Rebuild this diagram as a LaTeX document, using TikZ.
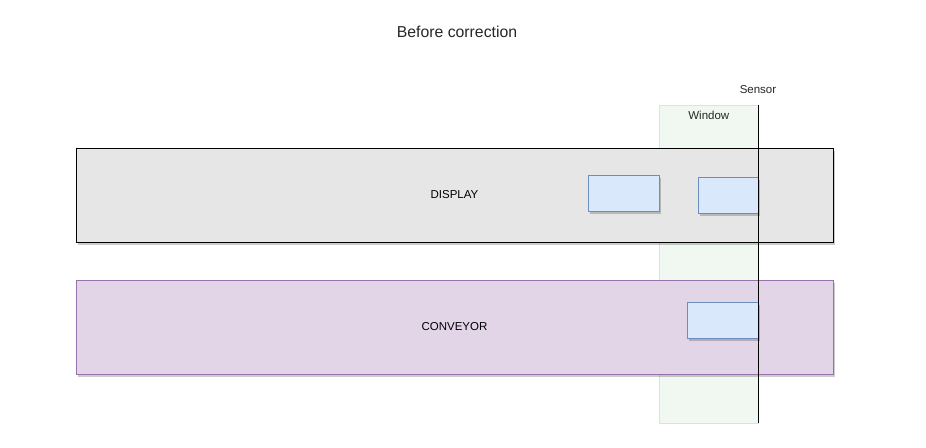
\documentclass[tikz,border=0pt]{standalone}
\usepackage{fontspec}
\setmainfont{Liberation Sans}
\usetikzlibrary{positioning, shadows}
\definecolor{winfill}{HTML}{F1F8F1}
\definecolor{windraw}{HTML}{D5E8D4}
\definecolor{dispfill}{HTML}{E6E6E6}
\definecolor{convfill}{HTML}{E1D5E7}
\definecolor{convdraw}{HTML}{9673A6}
\definecolor{itemfill}{HTML}{DAE8FC}
\definecolor{itemdraw}{HTML}{6C8EBF}

\begin{document}
\begin{tikzpicture}[
  x=1pt, y=-1pt,
  font=\fontsize{11.5}{13}\selectfont,
  softshadow/.style={
    drop shadow={shadow xshift=1.5pt, shadow yshift=-2.5pt, fill=black, opacity=0.2}
  },
  lane/.style={
    rectangle,
    minimum width=757pt,
    minimum height=94pt,
    inner sep=0pt,
    line width=0.6pt,
    softshadow
  },
  item/.style={
    rectangle,
    draw=itemdraw,
    fill=itemfill,
    line width=0.6pt,
    inner sep=0pt,
    minimum height=36pt,
    softshadow
  },
  label/.style={
    inner sep=0pt,
    text=black!85
  }
]
\useasboundingbox (0,0) rectangle (926,447);

% Title
\node[label, font=\fontsize{15.8}{18}\selectfont] (title) at (457,32) {Before correction};

% Inspection window (behind the lanes)
\node[rectangle, draw=windraw, fill=winfill, line width=0.6pt,
  minimum width=99pt, minimum height=318pt, inner sep=0pt, anchor=north west]
  (window) at (659,105) {};
\node[label, below=6pt of window.north] (windowlabel) {Window};

% Lanes
\node[lane, draw=black, fill=dispfill] (display) at (454.5,195) {DISPLAY};
\node[lane, draw=convdraw, fill=convfill] (conveyor) at (454.5,327) {CONVEYOR};

% Items
\node[item, minimum width=71pt, anchor=north west] (itemA) at (588,175) {};
\node[item, minimum width=60pt, anchor=north west] (itemB) at (698,177) {};
\node[item, minimum width=71pt, anchor=north west] (itemC) at (687,302) {};

% Sensor
\coordinate (sensortop) at (758,105);
\coordinate (sensorbot) at (758,423);
\node[label, above=11pt of sensortop] (sensorlabel) {Sensor};
\draw[black, line width=0.8pt] (sensortop) -- (sensorbot);

\end{tikzpicture}
\end{document}
